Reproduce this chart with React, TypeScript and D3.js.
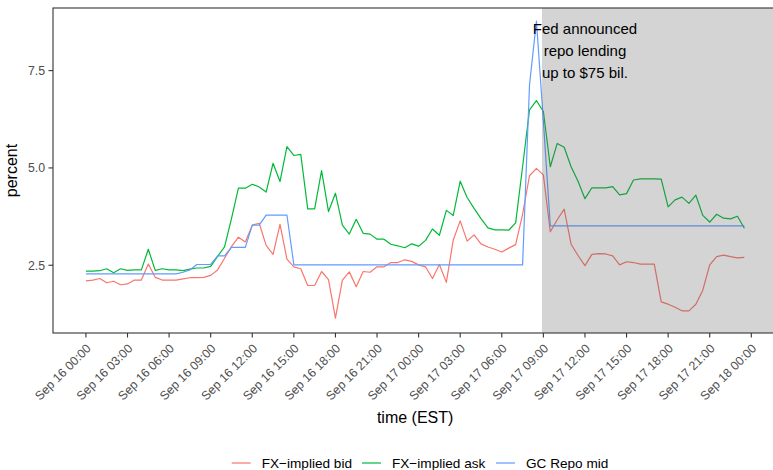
import React from "react";
import * as d3 from "d3";

// ---- data (30-minute observations starting Sep 16 00:00 EST) ----
const startTime = new Date(2019, 8, 16, 0, 0);
const stepMinutes = 30;

const fxBid: number[] = [
  2.10, 2.12, 2.16, 2.05, 2.09, 2.00, 2.02, 2.12, 2.12, 2.53,
  2.19, 2.12, 2.12, 2.12, 2.15, 2.18, 2.18, 2.19, 2.24, 2.38,
  2.68, 2.98, 3.22, 3.10, 3.53, 3.58, 3.01, 2.78, 3.55, 2.66,
  2.46, 2.41, 1.98, 1.98, 2.34, 2.13, 1.14, 2.12, 2.33, 1.95,
  2.34, 2.32, 2.46, 2.46, 2.57, 2.57, 2.64, 2.60, 2.51, 2.46,
  2.16, 2.52, 2.06, 3.15, 3.64, 3.12, 3.28, 3.05, 2.97, 2.91,
  2.84, 2.94, 3.03, 3.81, 4.80, 4.99, 4.82, 3.36, 3.67, 3.94,
  3.04, 2.75, 2.49, 2.78, 2.80, 2.79, 2.74, 2.51, 2.59, 2.57,
  2.53, 2.53, 2.53, 1.56, 1.50, 1.42, 1.33, 1.33, 1.50, 1.86,
  2.51, 2.72, 2.76, 2.72, 2.69, 2.70,
];

const fxAsk: number[] = [
  2.35, 2.35, 2.36, 2.41, 2.31, 2.41, 2.37, 2.38, 2.38, 2.91,
  2.37, 2.41, 2.38, 2.38, 2.36, 2.40, 2.43, 2.43, 2.47, 2.73,
  2.97, 3.70, 4.48, 4.48, 4.58, 4.51, 4.38, 5.12, 4.65, 5.55,
  5.32, 5.35, 3.95, 3.95, 4.93, 3.88, 4.35, 3.53, 3.30, 3.68,
  3.32, 3.30, 3.17, 3.17, 3.04, 3.00, 2.95, 3.05, 2.99, 3.14,
  3.43, 3.27, 3.91, 3.78, 4.66, 4.24, 3.96, 3.70, 3.46, 3.41,
  3.41, 3.40, 3.59, 5.03, 6.49, 6.73, 6.45, 5.03, 5.63, 5.53,
  5.03, 4.66, 4.21, 4.49, 4.49, 4.49, 4.52, 4.31, 4.34, 4.69,
  4.72, 4.72, 4.72, 4.71, 4.00, 4.18, 4.25, 4.09, 4.30, 3.78,
  3.61, 3.81, 3.71, 3.69, 3.76, 3.45,
];

const gcRepo: number[] = [
  2.28, 2.28, 2.28, 2.28, 2.28, 2.28, 2.28, 2.28, 2.28, 2.28,
  2.28, 2.28, 2.28, 2.28, 2.32, 2.38, 2.52, 2.52, 2.52, 2.74,
  2.74, 2.96, 2.96, 2.96, 3.53, 3.53, 3.79, 3.79, 3.79, 3.79,
  2.51, 2.51, 2.51, 2.51, 2.51, 2.51, 2.51, 2.51, 2.51, 2.51,
  2.51, 2.51, 2.51, 2.51, 2.51, 2.51, 2.51, 2.51, 2.51, 2.51,
  2.51, 2.51, 2.51, 2.51, 2.51, 2.51, 2.51, 2.51, 2.51, 2.51,
  2.51, 2.51, 2.51, 2.51, 7.13, 8.77, 6.20, 3.51, 3.51, 3.51,
  3.51, 3.51, 3.51, 3.51, 3.51, 3.51, 3.51, 3.51, 3.51, 3.51,
  3.51, 3.51, 3.51, 3.51, 3.51, 3.51, 3.51, 3.51, 3.51, 3.51,
  3.51, 3.51, 3.51, 3.51, 3.51, 3.51,
];

const seriesNames = ["FX\u2212implied bid", "FX\u2212implied ask", "GC Repo mid"];
const seriesColors = ["#F8766D", "#00BA38", "#619CFF"];
const yTicks = [2.5, 5.0, 7.5];
const announceTime = new Date(2019, 8, 17, 8, 54);
const annotationTime = new Date(2019, 8, 17, 12, 0);
const annotationValue = 8.0;
const annotationLines = ["Fed announced", "repo lending", "up to $75 bil."];
const xTitle = "time (EST)";
const yTitle = "percent";

// ---- layout ----
const W = 773;
const H = 470;
const panel = { left: 53, top: 8, right: 777.3, bottom: 333 };
const FONT = "'Liberation Sans', Arial, Helvetica, sans-serif";

const times = fxBid.map((_, i) => new Date(startTime.getTime() + i * stepMinutes * 60000));
const allSeries = [fxBid, fxAsk, gcRepo];

export default function App() {
  const tMin = times[0].getTime();
  const tMax = times[times.length - 1].getTime();
  const pad = (tMax - tMin) * 0.05;
  const x = d3
    .scaleTime()
    .domain([new Date(tMin - pad), new Date(tMax + pad)])
    .range([panel.left, panel.right]);
  const y = d3.scaleLinear().domain([0.76, 9.108]).range([panel.bottom, panel.top]);

  const xTicks = d3.timeHour.every(3)!.range(
    new Date(2019, 8, 16, 0, 0),
    new Date(2019, 8, 18, 0, 1)
  );
  const fmt = d3.timeFormat("%b %d %H:%M");

  const line = (vals: number[]) =>
    d3
      .line<number>()
      .x((_, i) => x(times[i]))
      .y((v) => y(v))(vals) || "";

  const ax = y(annotationValue);
  const annX = x(annotationTime);
  const legendX = [231.7, 362, 496];

  return (
    <svg
      width={W}
      height={H}
      style={{ position: "absolute", left: 0, top: 0, background: "#fff" }}
      fontFamily={FONT}
    >
      <defs>
        <clipPath id="panelClip">
          <rect
            x={panel.left}
            y={panel.top}
            width={panel.right - panel.left}
            height={panel.bottom - panel.top}
          />
        </clipPath>
      </defs>
      <rect x={0} y={0} width={W} height={H} fill="#fff" />
      <g clipPath="url(#panelClip)">
        {allSeries.map((s, k) => (
          <path
            key={k}
            d={line(s)}
            fill="none"
            stroke={seriesColors[k]}
            strokeWidth={1.2}
            strokeLinejoin="round"
          />
        ))}
        <rect
          x={x(announceTime)}
          y={panel.top}
          width={panel.right - x(announceTime)}
          height={panel.bottom - panel.top}
          fill="#595959"
          fillOpacity={0.26}
        />
        {annotationLines.map((t, i) => (
          <text
            key={i}
            x={annX}
            y={ax + (i - 1) * 22 + 5.3}
            textAnchor="middle"
            fontSize={15}
            fill="#000"
          >
            {t}
          </text>
        ))}
      </g>
      <rect
        x={panel.left}
        y={panel.top}
        width={panel.right - panel.left}
        height={panel.bottom - panel.top}
        fill="none"
        stroke="#333333"
        strokeWidth={1.1}
      />
      {/* y axis */}
      {yTicks.map((t) => (
        <g key={t}>
          <line x1={panel.left - 4.5} x2={panel.left} y1={y(t)} y2={y(t)} stroke="#333333" strokeWidth={1.1} />
          <text
            x={panel.left - 8}
            y={y(t)}
            dy="0.35em"
            textAnchor="end"
            fontSize={12.3}
            fill="#4D4D4D"
          >
            {t.toFixed(1)}
          </text>
        </g>
      ))}
      {/* x axis */}
      {xTicks.map((t, i) => (
        <g key={i}>
          <line
            x1={x(t)}
            x2={x(t)}
            y1={panel.bottom}
            y2={panel.bottom + 4.5}
            stroke="#333333"
            strokeWidth={1.1}
          />
          <text
            transform={`translate(${x(t) - 0.5},${panel.bottom + 10}) rotate(-45)`}
            textAnchor="end"
            dy="0.72em"
            fontSize={12.3}
            fill="#4D4D4D"
          >
            {fmt(t)}
          </text>
        </g>
      ))}
      <text
        x={(panel.left + panel.right) / 2}
        y={423}
        textAnchor="middle"
        fontSize={16}
        fill="#000"
      >
        {xTitle}
      </text>
      <text
        transform={`translate(16.5,${(panel.top + panel.bottom) / 2}) rotate(-90)`}
        textAnchor="middle"
        fontSize={16}
        fill="#000"
      >
        {yTitle}
      </text>
      {/* legend */}
      {seriesNames.map((n, k) => (
        <g key={n}>
          <line
            x1={legendX[k]}
            x2={legendX[k] + 19}
            y1={463}
            y2={463}
            stroke={seriesColors[k]}
            strokeWidth={1.2}
          />
          <text x={legendX[k] + 30} y={468} fontSize={13.6} fill="#000">
            {n}
          </text>
        </g>
      ))}
    </svg>
  );
}
